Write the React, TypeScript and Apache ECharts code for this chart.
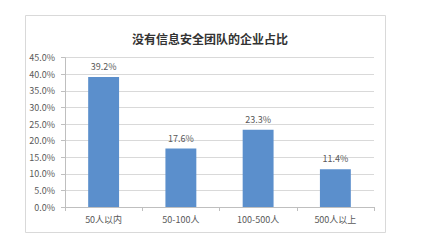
import React, { useEffect, useRef } from "react";
import * as echarts from "echarts";

const title = "没有信息安全团队的企业占比";
const categories = ["50人以内", "50-100人", "100-500人", "500人以上"];
const values = [39.2, 17.6, 23.3, 11.4];
const yMin = 0;
const yMax = 45;
const yStep = 5;

export default function App() {
  const ref = useRef<HTMLDivElement>(null);
  useEffect(() => {
    const chart = echarts.init(ref.current!, null, { renderer: "svg" });
    chart.setOption({
      animation: false,
      backgroundColor: "#ffffff",
      title: {
        text: title,
        left: 205,
        top: 27,
        textAlign: "center",
        textStyle: { fontSize: 12, fontWeight: "bold", color: "#333333", fontFamily: "Noto Sans CJK SC" },
      },
      graphic: [
        {
          type: "rect",
          shape: { x: 25.5, y: 15.5, width: 360, height: 217 },
          style: { fill: "none", stroke: "#d9d9d9", lineWidth: 1 },
          z: -1,
        },
      ],
      grid: { left: 65, right: 55, top: 57.7, bottom: 38, containLabel: false },
      xAxis: {
        type: "category",
        data: categories,
        axisLine: { lineStyle: { color: "#bfbfbf" } },
        axisTick: { show: true, alignWithLabel: false, length: 4, lineStyle: { color: "#bfbfbf" } },
        axisLabel: { color: "#595959", fontSize: 9, margin: 8, fontFamily: "Noto Sans CJK SC" },
      },
      yAxis: {
        type: "value",
        min: yMin,
        max: yMax,
        interval: yStep,
        axisLine: { show: true, lineStyle: { color: "#bfbfbf" } },
        axisTick: { show: true, length: 4, lineStyle: { color: "#bfbfbf" } },
        splitLine: { lineStyle: { color: "#d9d9d9" } },
        axisLabel: {
          color: "#595959",
          fontSize: 9,
          margin: 10,
          fontFamily: "Noto Sans CJK SC",
          formatter: (v: number) => v.toFixed(1) + "%",
        },
      },
      series: [
        {
          type: "bar",
          data: values,
          barWidth: "40%",
          itemStyle: { color: "#5b8fcc" },
          label: {
            show: true,
            position: "top",
            distance: 6,
            color: "#595959",
            fontSize: 9,
            fontFamily: "Noto Sans CJK SC",
            formatter: (p: any) => p.value.toFixed(1) + "%",
          },
        },
      ],
    });
    return () => chart.dispose();
  }, []);
  return <div ref={ref} style={{ position: "fixed", left: 0, top: 0, width: 429, height: 245 }} />;
}
